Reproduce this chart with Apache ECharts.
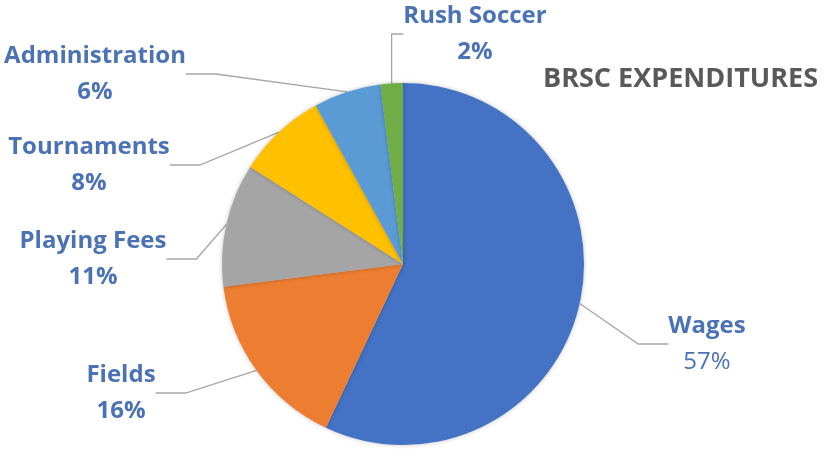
<!DOCTYPE html>
<html><head><meta charset="utf-8">
<script src="https://cdn.jsdelivr.net/npm/echarts@6/dist/echarts.min.js"></script>
<style>html,body{margin:0;padding:0;background:#fff}#c{width:831px;height:463px}</style>
</head><body><div id="c"></div>
<script>
const categories = ['Wages','Fields','Playing Fees','Tournaments','Administration','Rush Soccer'];
const values = [57,16,11,8,6,2];
const colors = ['#4472C4','#ED7D31','#A5A5A5','#FFC000','#5B9BD5','#70AD47'];
// label block centres (layout only)
const labelPos = {
  'Wages':[707,344],'Fields':[121,393],'Playing Fees':[93,259],
  'Tournaments':[89,165],'Administration':[95,74],'Rush Soccer':[475,34]
};
const chart = echarts.init(document.getElementById('c'));
const txt = '#4A72B4';
const ff = 'Open Sans';
chart.setOption({
  animation:false,
  title:{text:'BRSC EXPENDITURES',left:538,top:61,textStyle:{fontFamily:ff,fontWeight:'bold',fontSize:27,color:'#595959'}},
  series:[{
    type:'pie',center:[403,264],radius:181,startAngle:90,clockwise:true,
    itemStyle:{shadowBlur:4,shadowColor:'rgba(0,0,0,0.25)'},
    label:{show:true,position:'outside',formatter:'{n|{b}}\n{p|{d}%}',
      rich:{n:{fontFamily:ff,fontWeight:'bold',fontSize:24,color:txt,lineHeight:36,align:'center'},
            p:{fontFamily:ff,fontWeight:'bold',fontSize:24,color:txt,lineHeight:36,align:'center'},
            q:{fontFamily:ff,fontSize:24,color:txt,lineHeight:36,align:'center'}}},
    labelLine:{show:true,length:20,length2:30,lineStyle:{color:'#A6A6A6',width:1.3}},
    labelLayout:function(p){
      const name = categories[p.dataIndex];
      const pos = labelPos[name];
      return {x:pos[0],y:pos[1],align:'center',verticalAlign:'middle',hideOverlap:false,moveOverlap:null};
    },
    data: categories.map((c,i)=>({name:c,value:values[i],itemStyle:{color:colors[i]},
      label: i===0?{formatter:'{n|{b}}\n{q|{d}%}'}:undefined}))
  }]
});
</script></body></html>
